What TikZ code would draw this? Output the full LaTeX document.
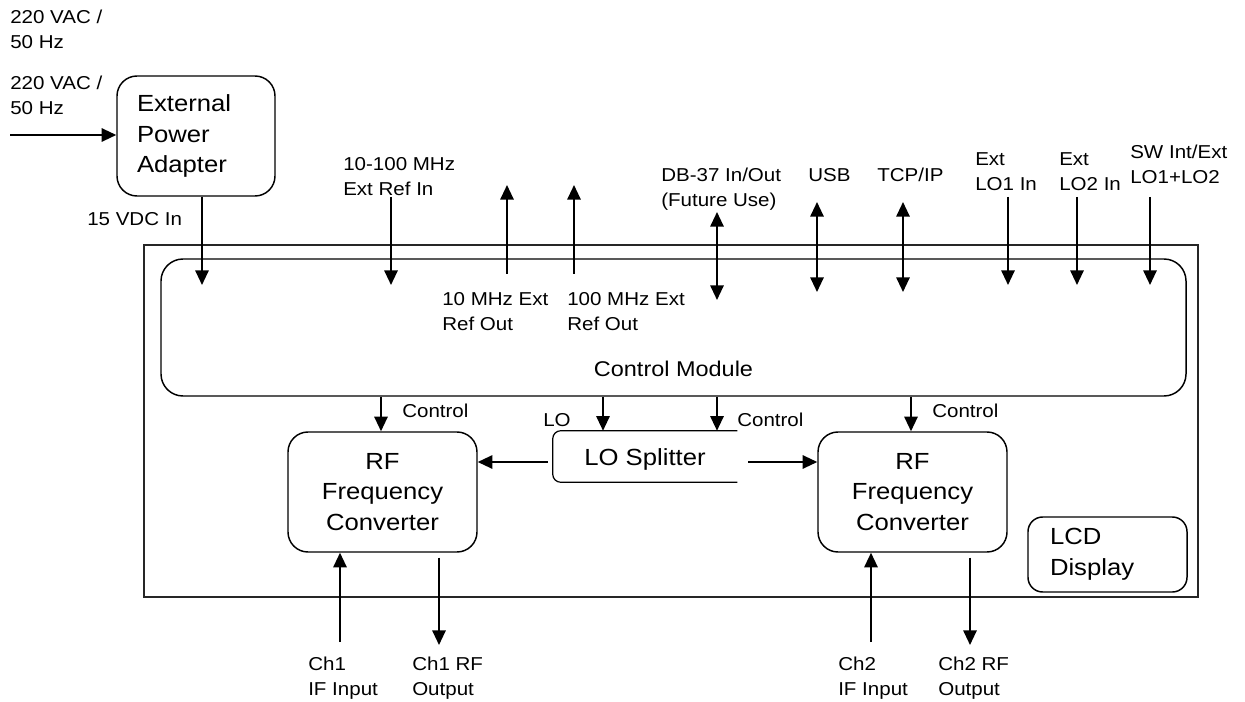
\documentclass[tikz,border=0pt]{standalone}
\usepackage{fontspec}
\setmainfont{Liberation Sans}
\newfontfamily\labfont[FakeStretch=1.1]{Liberation Sans}
\usetikzlibrary{arrows.meta}
\begin{document}
\begin{tikzpicture}[x=0.75pt,y=-0.75pt,
  lab/.style={font=\labfont\fontsize{14}{18.75}\selectfont, align=left, anchor=north west, inner sep=0pt},
  boxfont/.style={font=\labfont\fontsize{17.5}{23}\selectfont},
  blk/.style={draw, line width=1.1pt, rounded corners=15pt, boxfont, inner sep=0pt},
  arr/.style={line width=1.5pt, -{Triangle[length=11pt,width=10pt]}},
  darr/.style={line width=1.5pt, {Triangle[length=11pt,width=10pt]}-{Triangle[length=11pt,width=10pt]}},
]
\useasboundingbox (0,0) rectangle (1245,702);

% enclosure
\node[draw, line width=1pt, black!85, minimum width=790.5pt, minimum height=264pt, inner sep=0pt] (unit) at (671,421) {};

% blocks
\node[blk, minimum width=118.5pt, minimum height=90pt, text width=88.5pt, align=left] (epa) at (196,136) {External\\Power\\Adapter};
\node[blk, rounded corners=16.5pt, minimum width=768.75pt, minimum height=102.75pt, text height=72.75pt, text depth=0pt, font=\labfont\fontsize{16}{20}\selectfont] (cm) at (673.5,327.5) {Control Module};
\node[blk, minimum width=141.75pt, minimum height=90pt, align=center] (rf1) at (382.5,492) {RF\\Frequency\\Converter};
\node[blk, minimum width=141.75pt, minimum height=90pt, align=center] (rf2) at (912.5,492) {RF\\Frequency\\Converter};
\node[blk, rounded corners=11pt, minimum width=119.25pt, minimum height=56.25pt, text width=86.25pt, align=left] (lcd) at (1107.5,554.5) {LCD\\Display};
\node[boxfont, inner sep=0pt, minimum width=138pt, minimum height=38.25pt, text height=12.75pt, text depth=0pt] (los) at (645,456.5) {LO Splitter};
\draw[line width=0.9pt, rounded corners=6pt] (los.north east) -- (los.north west) -- (los.south west) -- (los.south east);

% labels
\node[lab] (ac1) at (10,10) {220 VAC /\\50 Hz};
\node[lab] (ac2) at (10,76) {220 VAC /\\50 Hz};
\node[lab] (vdc) at (87,212) {15 VDC In};
\node[lab] (refin) at (343,157) {10-100 MHz\\Ext Ref In};
\node[lab] (r10) at (442,292) {10 MHz Ext\\Ref Out};
\node[lab] (r100) at (567,292) {100 MHz Ext\\Ref Out};
\node[lab] (db) at (661,168) {DB-37 In/Out\\(Future Use)};
\node[lab] (usb) at (808,168) {USB};
\node[lab] (tcp) at (877,168) {TCP/IP};
\node[lab] (lo1) at (975,152) {Ext\\LO1 In};
\node[lab] (lo2) at (1059,152) {Ext\\LO2 In};
\node[lab] (sw) at (1130,145) {SW Int/Ext\\LO1+LO2};
\node[lab] (ctl1) at (402,404) {Control};
\node[lab] (lol) at (543,413) {LO};
\node[lab] (ctl2) at (737,413) {Control};
\node[lab] (ctl3) at (932,404) {Control};
\node[lab] (ch1i) at (308,657) {Ch1\\IF Input};
\node[lab] (ch1o) at (412,657) {Ch1 RF\\Output};
\node[lab] (ch2i) at (838,657) {Ch2\\IF Input};
\node[lab] (ch2o) at (938,657) {Ch2 RF\\Output};

% helper coordinates
\coordinate (yIn) at (0,285);
\coordinate (yOutS) at (0,274);
\coordinate (yLO) at (0,462);

% power
\coordinate (acS) at (10,135);
\draw[arr] (acS) -- (acS -| epa.west);
\coordinate (pwrX) at (202,0);
\draw[arr] (epa.south -| pwrX) -- (yIn -| pwrX);

% top connections
\coordinate (refS) at (391,197);
\draw[arr] (refS) -- (yIn -| refS);
\coordinate (o10) at (507,185);
\draw[arr] (yOutS -| o10) -- (o10);
\coordinate (o100) at (574,185);
\draw[arr] (yOutS -| o100) -- (o100);
\coordinate (dbT) at (717,212);
\coordinate (dbB) at (717,300);
\draw[darr] (dbT) -- (dbB);
\coordinate (usbT) at (817,202);
\coordinate (usbB) at (817,292);
\draw[darr] (usbT) -- (usbB);
\coordinate (tcpT) at (903,202);
\coordinate (tcpB) at (903,292);
\draw[darr] (tcpT) -- (tcpB);
\coordinate (lo1S) at (1008,197);
\draw[arr] (lo1S) -- (yIn -| lo1S);
\coordinate (lo2S) at (1077,197);
\draw[arr] (lo2S) -- (yIn -| lo2S);
\coordinate (swS) at (1150,197);
\draw[arr] (swS) -- (yIn -| swS);

% module to lower blocks
\coordinate (x1) at (381,0);
\draw[arr] (cm.south -| x1) -- (rf1.north -| x1);
\coordinate (xlo) at (603,0);
\draw[arr] (cm.south -| xlo) -- (los.north -| xlo);
\coordinate (x2) at (717,0);
\draw[arr] (cm.south -| x2) -- (los.north -| x2);
\coordinate (x3) at (911,0);
\draw[arr] (cm.south -| x3) -- (rf2.north -| x3);

% LO splitter outputs
\draw[arr, shorten <=3.75pt] (los.west |- yLO) -- (rf1.east |- yLO);
\draw[arr, shorten <=8.25pt] (los.east |- yLO) -- (rf2.west |- yLO);

% channel I/O
\coordinate (c1i) at (340,642);
\draw[arr] (c1i) -- (rf1.south -| c1i);
\coordinate (c1o) at (439,645);
\draw[arr, shorten <=3.75pt] (rf1.south -| c1o) -- (c1o);
\coordinate (c2i) at (871,642);
\draw[arr] (c2i) -- (rf2.south -| c2i);
\coordinate (c2o) at (970,645);
\draw[arr, shorten <=3.75pt] (rf2.south -| c2o) -- (c2o);
\end{tikzpicture}
\end{document}
